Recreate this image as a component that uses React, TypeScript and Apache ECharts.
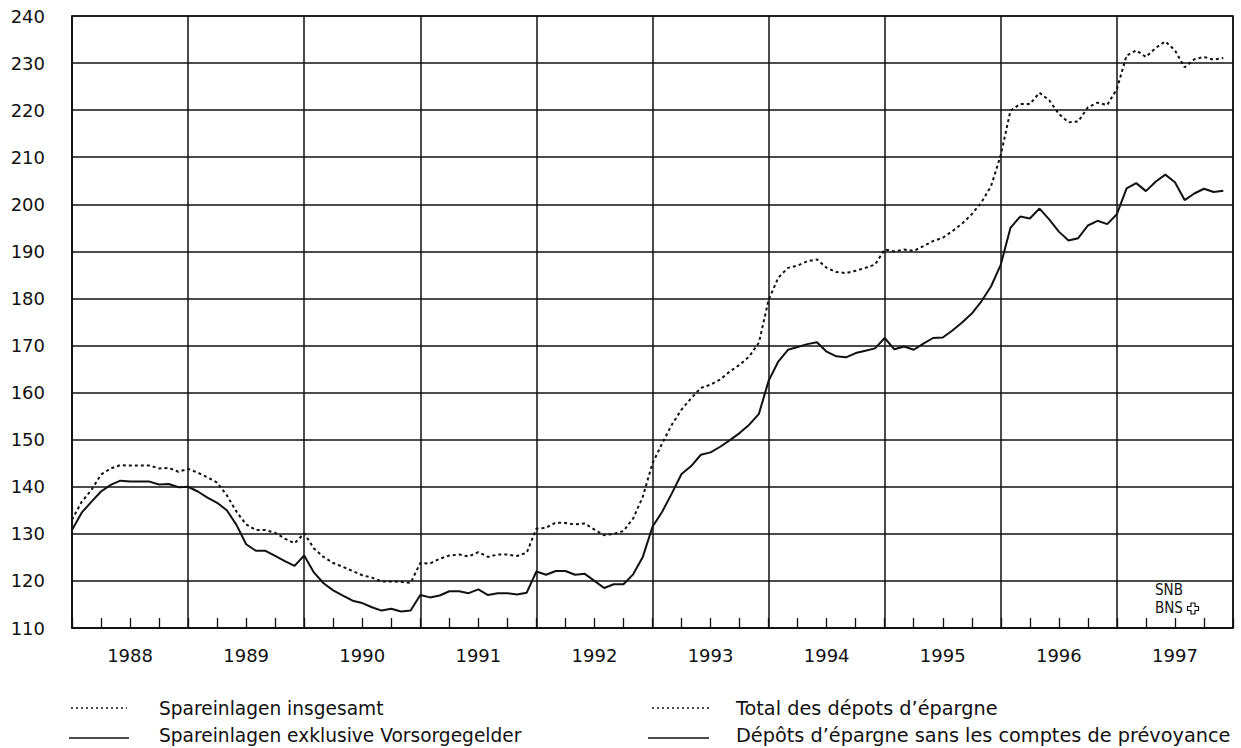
import React, { useEffect, useRef } from "react";
import * as echarts from "echarts";

// Months since Jan 1988 (0..119)
const years = ["1988", "1989", "1990", "1991", "1992", "1993", "1994", "1995", "1996", "1997"];

// Spareinlagen insgesamt / Total des dépôts d'épargne (monthly index)
const totalSavings = [
  133.0, 136.8, 139.3, 142.6, 143.9, 144.6, 144.5, 144.5, 144.5, 143.9, 144.0, 143.2,
  143.8, 143.0, 142.0, 140.9, 138.2, 134.7, 132.0, 130.8, 130.8, 130.2, 129.0, 128.0,
  130.1, 126.9, 125.1, 123.8, 123.0, 122.1, 121.2, 120.7, 119.9, 119.9, 119.8, 119.6,
  123.8, 123.7, 124.7, 125.4, 125.6, 125.2, 126.1, 125.1, 125.6, 125.6, 125.3, 126.0,
  131.1, 131.3, 132.4, 132.3, 132.0, 132.2, 130.9, 129.7, 130.0, 130.6, 133.3, 137.9,
  145.0, 149.2, 153.2, 156.4, 158.8, 161.0, 161.7, 162.8, 164.5, 165.9, 167.7, 170.6,
  179.7, 184.4, 186.5, 187.0, 187.9, 188.3, 186.5, 185.6, 185.4, 185.9, 186.5, 187.2,
  190.4, 190.0, 190.4, 190.1, 191.1, 192.2, 192.9, 194.3, 195.9, 197.9, 200.4, 203.9,
  210.5, 219.9, 221.3, 221.3, 223.7, 222.1, 219.2, 217.4, 217.6, 220.6, 221.6, 221.1,
  224.5, 231.6, 232.7, 231.3, 233.2, 234.6, 232.7, 229.1, 230.8, 231.3, 230.7, 231.1,
];

// Spareinlagen exklusive Vorsorgegelder / Dépôts d'épargne sans les comptes de prévoyance
const exclPension = [
  130.8, 134.5, 136.8, 139.0, 140.4, 141.3, 141.1, 141.1, 141.1, 140.5, 140.6, 139.9,
  140.0, 139.0, 137.7, 136.6, 135.0, 131.9, 127.8, 126.4, 126.4, 125.3, 124.2, 123.2,
  125.4, 121.8, 119.5, 118.0, 116.9, 115.8, 115.3, 114.4, 113.7, 114.1, 113.5, 113.7,
  117.0, 116.5, 116.9, 117.8, 117.8, 117.4, 118.2, 117.0, 117.4, 117.4, 117.1, 117.5,
  122.0, 121.3, 122.1, 122.1, 121.3, 121.5, 120.0, 118.5, 119.3, 119.3, 121.4, 125.1,
  131.5, 134.7, 138.6, 142.7, 144.4, 146.8, 147.3, 148.5, 149.9, 151.4, 153.2, 155.5,
  162.5, 166.6, 169.1, 169.7, 170.3, 170.7, 168.7, 167.7, 167.5, 168.4, 168.9, 169.4,
  171.6, 169.2, 169.8, 169.1, 170.4, 171.6, 171.7, 173.2, 174.9, 176.8, 179.4, 182.6,
  187.2, 195.0, 197.4, 197.0, 199.1, 196.8, 194.2, 192.3, 192.8, 195.5, 196.5, 195.8,
  197.9, 203.4, 204.5, 202.8, 204.8, 206.3, 204.7, 200.9, 202.3, 203.3, 202.6, 202.9,
];

const legendDe = ["Spareinlagen insgesamt", "Spareinlagen exklusive Vorsorgegelder"];
const legendFr = ["Total des dépots d’épargne", "Dépôts d’épargne sans les comptes de prévoyance"];
const logoLines = ["SNB", "BNS"];

const FONT = "DejaVu Sans";
const INK = "#111";

export default function App() {
  const ref = useRef<HTMLDivElement>(null);

  useEffect(() => {
    document.body.style.margin = "0";
    const chart = echarts.init(ref.current!, null, { renderer: "svg" });

    const toPairs = (arr: number[]) => arr.map((v, i) => [i, v]);

    const cross = (cx: number, cy: number, h: number, a: number) => [
      [cx - a, cy - h], [cx + a, cy - h], [cx + a, cy - a], [cx + h, cy - a],
      [cx + h, cy + a], [cx + a, cy + a], [cx + a, cy + h], [cx - a, cy + h],
      [cx - a, cy + a], [cx - h, cy + a], [cx - h, cy - a], [cx - a, cy - a],
    ];

    const legendText = (x: number, y: number, text: string, size: number) => ({
      type: "text",
      x,
      y,
      style: { text, font: `${size}px "${FONT}"`, fill: INK, verticalAlign: "middle", align: "left" },
    });

    const logoText = (y: number, text: string) => ({
      type: "text",
      x: 1155,
      y,
      style: {
        text,
        font: '15px "Liberation Sans Narrow", "DejaVu Sans Condensed"',
        fill: INK,
        verticalAlign: "middle",
        align: "left",
      },
    });

    chart.setOption({
      animation: false,
      backgroundColor: "#fff",
      grid: {
        left: 72,
        right: 8,
        top: 16,
        bottom: 120,
        show: true,
        borderColor: INK,
        borderWidth: 1.5,
        backgroundColor: "transparent",
      },
      xAxis: [
        {
          type: "value",
          min: 0,
          max: 120,
          interval: 12,
          axisLine: { show: true, lineStyle: { color: INK, width: 1.5 } },
          axisTick: { show: true, inside: true, length: 10, lineStyle: { color: INK, width: 1.3 } },
          minorTick: { show: true, splitNumber: 4, length: 10, lineStyle: { color: INK, width: 1.3 } },
          axisLabel: { show: false },
          splitLine: { show: true, lineStyle: { color: INK, width: 1.5 } },
        },
        {
          type: "category",
          data: years,
          position: "bottom",
          boundaryGap: true,
          axisLine: { show: false },
          axisTick: { show: false },
          splitLine: { show: false },
          axisLabel: { show: true, margin: 18, color: INK, fontFamily: FONT, fontSize: 18 },
        },
      ],
      yAxis: {
        type: "value",
        min: 110,
        max: 240,
        interval: 10,
        axisLine: { show: true, lineStyle: { color: INK, width: 1.5 } },
        axisTick: { show: false },
        axisLabel: { margin: 27, color: INK, fontFamily: FONT, fontSize: 18 },
        splitLine: { show: true, lineStyle: { color: INK, width: 1.5 } },
      },
      series: [
        {
          name: legendDe[0],
          type: "line",
          xAxisIndex: 0,
          data: toPairs(totalSavings),
          showSymbol: false,
          symbol: "none",
          lineStyle: { color: INK, width: 2, type: [3, 3] },
          z: 3,
        },
        {
          name: legendDe[1],
          type: "line",
          xAxisIndex: 0,
          data: toPairs(exclPension),
          showSymbol: false,
          symbol: "none",
          lineStyle: { color: INK, width: 2 },
          z: 3,
        },
      ],
      graphic: [
        // legend left (German)
        { type: "line", shape: { x1: 71, y1: 708, x2: 127, y2: 708 }, style: { stroke: INK, lineWidth: 1.3, lineDash: [2, 3] } },
        legendText(159, 708, legendDe[0], 18.6),
        { type: "line", shape: { x1: 69, y1: 738, x2: 129, y2: 738 }, style: { stroke: INK, lineWidth: 1.5 } },
        legendText(159, 735, legendDe[1], 18.6),
        // legend right (French)
        { type: "line", shape: { x1: 652, y1: 708, x2: 709, y2: 708 }, style: { stroke: INK, lineWidth: 1.3, lineDash: [2, 3] } },
        legendText(736, 708, legendFr[0], 19.3),
        { type: "line", shape: { x1: 648, y1: 738, x2: 709, y2: 738 }, style: { stroke: INK, lineWidth: 1.5 } },
        legendText(736, 735, legendFr[1], 19.3),
        // SNB BNS logo
        logoText(590, logoLines[0]),
        logoText(608, logoLines[1]),
        {
          type: "polygon",
          shape: { points: cross(1193, 608.5, 5.5, 2) },
          style: { fill: "#fff", stroke: INK, lineWidth: 1.2 },
        },
      ],
    });

    return () => chart.dispose();
  }, []);

  return (
    <div
      ref={ref}
      style={{ position: "absolute", left: 0, top: 0, width: 1241, height: 748, background: "#fff" }}
    />
  );
}
